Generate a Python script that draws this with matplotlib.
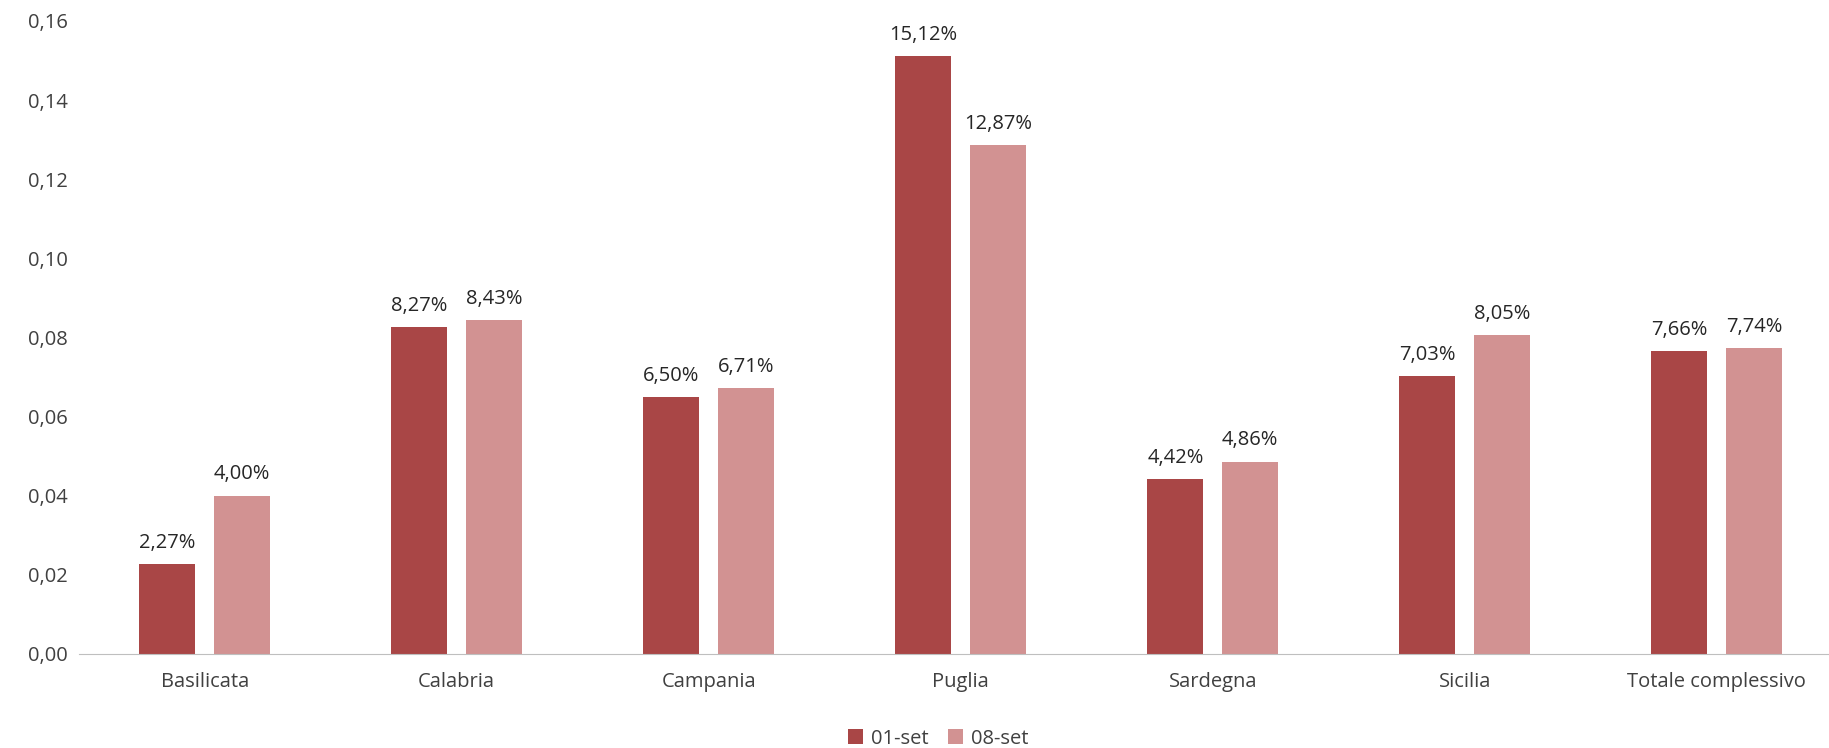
import matplotlib.pyplot as plt
import numpy as np

plt.rcParams['font.family'] = ['Open Sans', 'DejaVu Sans']

regioni = ['Basilicata', 'Calabria', 'Campania', 'Puglia', 'Sardegna', 'Sicilia', 'Totale complessivo']
set01 = [0.0227, 0.0827, 0.0650, 0.1512, 0.0442, 0.0703, 0.0766]
set08 = [0.0400, 0.0843, 0.0671, 0.1287, 0.0486, 0.0805, 0.0774]
serie = ['01-set', '08-set']
colori = ['#A94646', '#D29292']

fig = plt.figure(figsize=(18.29, 7.48), dpi=100)
ax = fig.add_axes([0.043, 0.126, 0.9645, 0.846])

x = np.arange(len(regioni))
w = 0.222
off = 0.148
b1 = ax.bar(x - off, set01, w, color=colori[0], label=serie[0])
b2 = ax.bar(x + off, set08, w, color=colori[1], label=serie[1])

for bars, vals in [(b1, set01), (b2, set08)]:
    for b, v in zip(bars, vals):
        ax.annotate(f'{v * 100:.2f}%'.replace('.', ','),
                    xy=(b.get_x() + b.get_width() / 2, v), xytext=(0, 8),
                    textcoords='offset points', ha='center', va='bottom',
                    fontsize=14.5, color='#262626')

ax.set_xlim(-0.5, len(regioni) - 0.5)
ax.set_ylim(0, 0.16)
ax.set_yticks(np.arange(0, 0.161, 0.02))
ax.set_yticklabels([f'{t:.2f}'.replace('.', ',') for t in np.arange(0, 0.161, 0.02)])
ax.set_xticks(x)
ax.set_xticklabels(regioni)
ax.tick_params(axis='both', length=0, labelsize=14.5, labelcolor='#404040')
ax.tick_params(axis='x', pad=13)
ax.tick_params(axis='y', pad=8)
for s in ['top', 'right', 'left']:
    ax.spines[s].set_visible(False)
ax.spines['bottom'].set_color('#BFBFBF')

fig.legend(loc='lower center', bbox_to_anchor=(0.513, -0.025), ncol=2, frameon=False,
           fontsize=14.5, handlelength=0.7, handleheight=0.7, handletextpad=0.4,
           columnspacing=1.0, labelcolor='#404040')

fig.savefig('out.png', dpi=100)
